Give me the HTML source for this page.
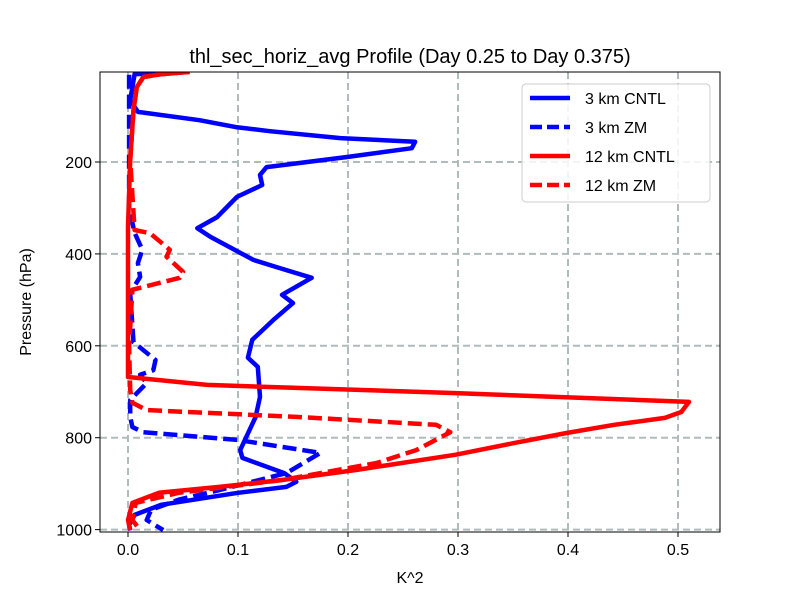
<!DOCTYPE html>
<html><head><meta charset="utf-8"><style>
body{margin:0;background:#fff}
svg{font-family:"Liberation Sans","DejaVu Sans",sans-serif}
</style></head><body>
<svg id="chart" width="800" height="600" viewBox="0 0 800 600">
<rect width="800" height="600" fill="#fff"/>
<text x="410" y="63" font-size="20" text-anchor="middle">thl_sec_horiz_avg Profile (Day 0.25 to Day 0.375)</text>
<g id="grid"></g><g id="series"></g><g id="axes"></g>
<text x="410" y="583" font-size="16" text-anchor="middle">K^2</text>
<text transform="translate(31,302) rotate(-90)" font-size="16" text-anchor="middle">Pressure (hPa)</text>
<g id="legend"></g>
</svg>
<script>
const xTicks=[0,0.1,0.2,0.3,0.4,0.5];
const xTickLabels=["0.0","0.1","0.2","0.3","0.4","0.5"];
const yTicks=[200,400,600,800,1000];
const yTickLabels=["200","400","600","800","1000"];
const seriesNames=["3 km CNTL","3 km ZM","12 km CNTL","12 km ZM"];
const p3c=[4,9,65,91,109,124,133,148,156,170,189,211,228,250,276,298,320,344,363,413,431,452,489,507,544,587,626,646,711,755,827,844,877,896,907,920,946,968,990,1002];
const v3c=[0.055,0.006,0.002,0.009,0.065,0.098,0.129,0.193,0.261,0.258,0.2,0.126,0.12,0.122,0.099,0.09,0.081,0.063,0.075,0.114,0.138,0.167,0.14,0.15,0.132,0.113,0.109,0.118,0.12,0.116,0.102,0.104,0.142,0.153,0.144,0.1,0.03,0.006,0.001,0.002];
const p3z=[10,300,354,391,420,450,485,592,631,653,663,681,718,755,777,788,805,833,877,914,935,957,979,1001];
const v3z=[0.001,0.001,0.006,0.013,0.009,0.011,0.002,0.005,0.025,0.023,0.011,0.017,0.002,0.002,0.004,0.014,0.1,0.175,0.144,0.083,0.046,0.021,0.017,0.032];
const p12c=[4,9,15,37,87,196,341,485,668,685,703,722,744,757,772,790,811,837,870,892,907,920,942,979,1001];
const v12c=[0.056,0.03,0.014,0.008,0.005,0.002,0,0,0,0.072,0.298,0.51,0.503,0.488,0.442,0.398,0.352,0.298,0.208,0.14,0.083,0.028,0.004,0,0.002];
const p12z=[4,9,15,37,87,196,348,355,391,406,439,452,472,478,600,696,724,740,755,772,788,827,855,892,920,942,979,1001];
const v12z=[0.056,0.03,0.014,0.008,0.005,0.002,0.006,0.02,0.038,0.035,0.05,0.047,0.014,0.004,0.001,0.002,0.004,0.017,0.155,0.28,0.293,0.262,0.226,0.14,0.046,0.007,0.004,0.011];

const L=100,R=720,T=72,B=532;
const x=v=>128+v*1100;
const y=p=>162+(p-200)*0.4595;
const NS="http://www.w3.org/2000/svg";
function mk(tag,attrs,parent){const e=document.createElementNS(NS,tag);for(const k in attrs)e.setAttribute(k,attrs[k]);parent.appendChild(e);return e;}
const grid=document.getElementById('grid'),axes=document.getElementById('axes'),ser=document.getElementById('series');
xTicks.forEach((t,i)=>{
 const g=mk('line',{x1:x(t),x2:x(t),y1:T,y2:B,stroke:'#b0bcbc','stroke-width':2,'stroke-dasharray':'7,4'},grid);
 
 
 const tk=mk('line',{x1:x(t),x2:x(t),y1:B,y2:B+5,stroke:'#000','stroke-width':1},axes);
 
 
 const tl=mk('text',{x:x(t),y:B+23,'font-size':16,'text-anchor':'middle'},axes);tl.textContent=xTickLabels[i];
 
 
});
yTicks.forEach((t,i)=>{
 const g=mk('line',{x1:L,x2:R,y1:y(t),y2:y(t),stroke:'#b0bcbc','stroke-width':2,'stroke-dasharray':'7,4'},grid);
 
 
 const tk=mk('line',{x1:L-5,x2:L,y1:y(t),y2:y(t),stroke:'#000','stroke-width':1},axes);
 
 
 const tl=mk('text',{x:L-8,y:y(t)+6,'font-size':16,'text-anchor':'end'},axes);tl.textContent=yTickLabels[i];
 
 
});
const frame=mk('rect',{x:L,y:T,width:R-L,height:B-T,fill:'none',stroke:'#000','stroke-width':1},axes);


mk('clipPath',{id:'clip'},ser).appendChild(Object.assign(document.createElementNS(NS,'rect'),{}));
ser.querySelector('clipPath rect').setAttribute('x',L);ser.querySelector('clipPath rect').setAttribute('y',T);
ser.querySelector('clipPath rect').setAttribute('width',R-L);ser.querySelector('clipPath rect').setAttribute('height',B-T);
const defs=[[p3c,v3c,'#0000ff',''],[p3z,v3z,'#0000ff','14,6'],[p12c,v12c,'#ff0000',''],[p12z,v12z,'#ff0000','14,6']];
const names=['line-3km-cntl','line-3km-zm','line-12km-cntl','line-12km-zm'];
defs.forEach((d,i)=>{
 const pts=d[0].map((p,j)=>x(d[1][j]).toFixed(1)+','+y(p).toFixed(1)).join(' ');
 const pl=mk('polyline',{points:pts,fill:'none',stroke:d[2],'stroke-width':4.5,'stroke-dasharray':d[3],'stroke-linejoin':'round','clip-path':'url(#clip)'},ser);
 
 
});
const lg=document.getElementById('legend');
const box=mk('rect',{x:522,y:84,width:188,height:118,rx:4,fill:'#fff','fill-opacity':0.85,stroke:'#ccc'},lg);


seriesNames.forEach((n,i)=>{
 const yy=98+i*29;
 const ln=mk('line',{x1:530,x2:570,y1:yy,y2:yy,stroke:defs[i][2],'stroke-width':4.5,'stroke-dasharray':defs[i][3]?'12,5':''},lg);
 
 
 const t=mk('text',{x:585,y:yy+6,'font-size':16},lg);t.textContent=n;
 
 
});
</script>
</body></html>
